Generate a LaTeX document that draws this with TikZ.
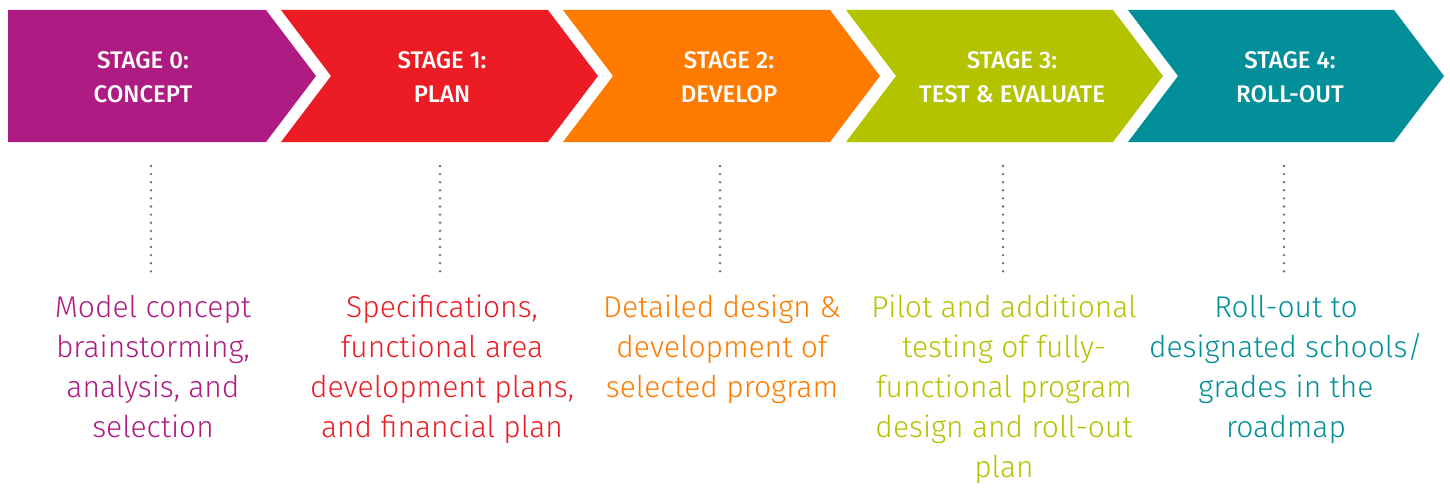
\documentclass[tikz,border=0pt]{standalone}
\usepackage{fontspec}
\newfontfamily\lightfont{Fira Sans Light}
\newfontfamily\headfont{Fira Sans Medium}
\definecolor{cpurple}{HTML}{AE1B82}
\definecolor{cred}{HTML}{EC1C24}
\definecolor{corange}{HTML}{FF7B00}
\definecolor{clime}{HTML}{B3C300}
\definecolor{cteal}{HTML}{028F9A}
\definecolor{cdots}{HTML}{6A6A6A}
\tikzset{
  headtext/.style={text=white, align=center, anchor=base, inner sep=0pt,
    font=\headfont\fontsize{24}{34}\selectfont},
  desctext/.style={align=center, anchor=base, inner sep=0pt,
    font=\lightfont\fontsize{30}{40}\selectfont},
  dotline/.style={draw=cdots, line width=2.6pt, line cap=round, dash pattern=on 0pt off 8.1pt},
}
\begin{document}
\begin{tikzpicture}[x=1pt,y=-1pt]
\useasboundingbox (0,0) rectangle (1450,487);
% chevrons
\fill[cpurple] (8,10) -- (266,10) -- (316,76) -- (266,142) -- (8,142) -- cycle;
\fill[cred] (281,10) -- (548,10) -- (598,76) -- (548,142) -- (281,142) -- (331,76) -- cycle;
\fill[corange] (563,10) -- (830,10) -- (880,76) -- (830,142) -- (563,142) -- (613,76) -- cycle;
\fill[clime] (846,10) -- (1113,10) -- (1163,76) -- (1113,142) -- (846,142) -- (896,76) -- cycle;
\fill[cteal] (1128,10) -- (1394,10) -- (1444,76) -- (1394,142) -- (1128,142) -- (1178,76) -- cycle;
% headers (anchor = baseline of last line)
\node[headtext] (h0) at (143,102) {STAGE 0:\\CONCEPT};
\node[headtext] (h1) at (442,102) {STAGE 1:\\PLAN};
\node[headtext] (h2) at (729,102) {STAGE 2:\\DEVELOP};
\node[headtext] (h3) at (1012,102) {STAGE 3:\\TEST \& EVALUATE};
\node[headtext] (h4) at (1290,102) {STAGE 4:\\ROLL-OUT};
% dotted connectors
\foreach \i/\x in {0/151,1/440,2/720,3/1003,4/1284}{
  \coordinate (t\i) at (\x,166);
  \coordinate (b\i) at (\x,279);
  \draw[dotline] (t\i) -- (b\i);
}
% descriptions (anchor = baseline of last line)
\node[desctext, text=cpurple] (d0) at (153,437) {Model concept\\brainstorming,\\analysis, and\\selection};
\node[desctext, text=cred] (d1) at (442,437) {Specifications,\\functional area\\development plans,\\and financial plan};
\node[desctext, text=corange] (d2) at (722,397) {Detailed design \&\\development of\\selected program};
\node[desctext, text=clime] (d3) at (1004,477) {Pilot and additional\\testing of fully-\\functional program\\design and roll-out\\plan};
\node[desctext, text=cteal] (d4) at (1286,437) {Roll-out to\\designated schools/\\grades in the\\roadmap};
\end{tikzpicture}
\end{document}
